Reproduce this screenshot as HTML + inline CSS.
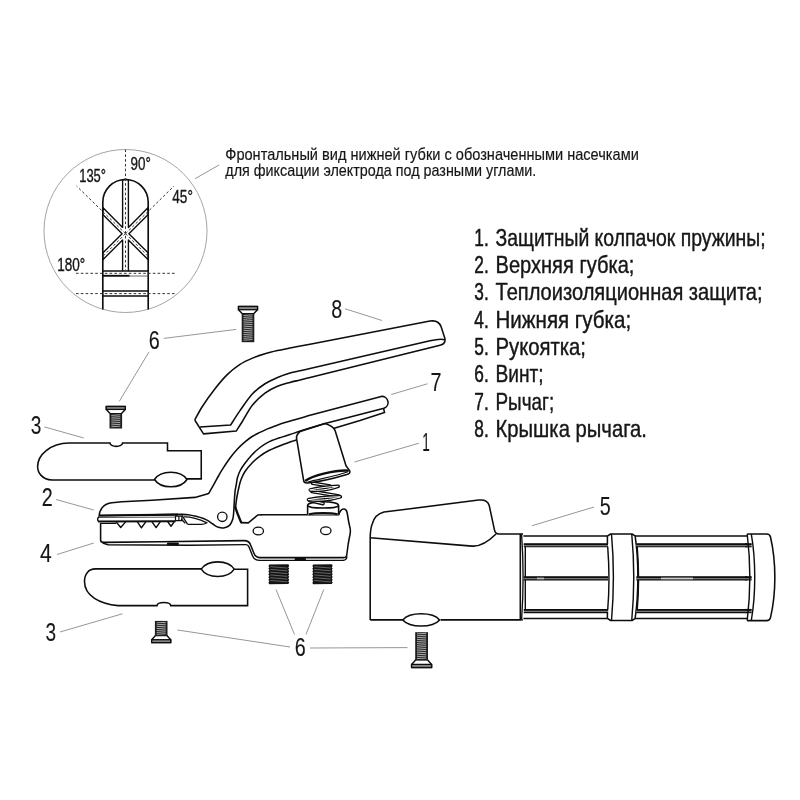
<!DOCTYPE html>
<html lang="ru"><head><meta charset="utf-8"><title>Электрододержатель — схема</title>
<style>html,body{margin:0;padding:0;background:#fff;}body{width:800px;height:800px;overflow:hidden;font-family:"Liberation Sans",sans-serif;}svg{display:block;filter:grayscale(1);}</style>
</head><body>
<svg width="800" height="800" viewBox="0 0 800 800" font-family="'Liberation Sans', sans-serif">
<circle cx="125.5" cy="231" r="81.5" fill="none" stroke="#9a9a9a" stroke-width="0.9"/>
<line x1="195" y1="178.75" x2="219" y2="165" stroke="#8a8a8a" stroke-width="0.9" />
<path d="M122.6,227.4 L102.8,207.6 L102.8,214.4 L122.1,233.7 L102.8,253 L102.8,259.8 L122.6,240 L122.6,271 L128.4,271 L128.4,240 L148.2,259.8 L148.2,253 L128.9,233.7 L148.2,214.4 L148.2,207.6 L128.4,227.4 L128.4,179.69 L128.28,179.67 L127.72,179.61 L127.17,179.56 L126.61,179.53 L126.06,179.51 L125.5,179.5 L124.94,179.51 L124.39,179.53 L123.83,179.56 L123.28,179.61 L122.72,179.67 L122.6,179.69 L122.6,227.4Z" fill="#fff" stroke="#0d0d0d" stroke-width="1.38" stroke-linejoin="round"/>
<path d="M102.8,309.5 V202.2 A22.7,22.7 0 0 1 148.2,202.2 V309.5" fill="none" stroke="#0d0d0d" stroke-width="1.65" />
<path d="M102.8,271 H122.6 M128.4,271 H148.2" fill="none" stroke="#0d0d0d" stroke-width="1.38" />
<path d="M129,276 H148.2" fill="none" stroke="#555" stroke-width="0.9" />
<path d="M102.8,275.8 H129.5" fill="none" stroke="#0d0d0d" stroke-width="1.9" />
<path d="M102.8,291 H148.2 M102.8,296 H148.2" fill="none" stroke="#0d0d0d" stroke-width="1.38" />
<line x1="125.5" y1="149.5" x2="125.5" y2="270" stroke="#333" stroke-width="1" stroke-dasharray="2.6 2.2"/>
<line x1="125.5" y1="233.7" x2="76.5" y2="186" stroke="#333" stroke-width="1" stroke-dasharray="2.6 2.2"/>
<line x1="125.5" y1="233.7" x2="174" y2="186" stroke="#333" stroke-width="1" stroke-dasharray="2.6 2.2"/>
<line x1="125.5" y1="233.7" x2="103.4" y2="255.8" stroke="#333" stroke-width="1" stroke-dasharray="2.6 2.2"/>
<line x1="125.5" y1="233.7" x2="147.6" y2="255.8" stroke="#333" stroke-width="1" stroke-dasharray="2.6 2.2"/>
<line x1="76" y1="273.3" x2="175.5" y2="273.3" stroke="#333" stroke-width="1" stroke-dasharray="2.6 2.2"/>
<line x1="76" y1="293.6" x2="175.5" y2="293.6" stroke="#333" stroke-width="1" stroke-dasharray="2.6 2.2"/>
<text x="130.6" y="170.2" font-size="17.6" text-anchor="start" font-weight="normal" fill="#161616" textLength="20.3" lengthAdjust="spacingAndGlyphs" stroke="#161616" stroke-width="0.35" stroke-linejoin="round">90°</text>
<text x="79.2" y="181.7" font-size="17.6" text-anchor="start" font-weight="normal" fill="#161616" textLength="26.8" lengthAdjust="spacingAndGlyphs" stroke="#161616" stroke-width="0.35" stroke-linejoin="round">135°</text>
<text x="172.3" y="203.3" font-size="17.6" text-anchor="start" font-weight="normal" fill="#161616" textLength="20.6" lengthAdjust="spacingAndGlyphs" stroke="#161616" stroke-width="0.35" stroke-linejoin="round">45°</text>
<text x="57.2" y="270.5" font-size="17.6" text-anchor="start" font-weight="normal" fill="#161616" textLength="28" lengthAdjust="spacingAndGlyphs" stroke="#161616" stroke-width="0.35" stroke-linejoin="round">180°</text>
<text x="225.3" y="159.5" font-size="16.2" text-anchor="start" font-weight="normal" fill="#161616" textLength="413.5" lengthAdjust="spacingAndGlyphs" stroke="#161616" stroke-width="0.18" stroke-linejoin="round">Фронтальный вид нижней губки с обозначенными насечками</text>
<text x="225.3" y="175.7" font-size="16.2" text-anchor="start" font-weight="normal" fill="#161616" textLength="311" lengthAdjust="spacingAndGlyphs" stroke="#161616" stroke-width="0.18" stroke-linejoin="round">для фиксации электрода под разными углами.</text>
<text x="474.3" y="245.6" font-size="24" text-anchor="start" font-weight="normal" fill="#161616" textLength="14.4" lengthAdjust="spacingAndGlyphs" stroke="#161616" stroke-width="0.55" stroke-linejoin="round">1.</text>
<text x="495.5" y="245.6" font-size="24" text-anchor="start" font-weight="normal" fill="#161616" textLength="270.1" lengthAdjust="spacingAndGlyphs" stroke="#161616" stroke-width="0.42" stroke-linejoin="round">Защитный колпачок пружины;</text>
<text x="474.3" y="272.96" font-size="24" text-anchor="start" font-weight="normal" fill="#161616" textLength="14.4" lengthAdjust="spacingAndGlyphs" stroke="#161616" stroke-width="0.55" stroke-linejoin="round">2.</text>
<text x="495.5" y="272.96" font-size="24" text-anchor="start" font-weight="normal" fill="#161616" textLength="138.9" lengthAdjust="spacingAndGlyphs" stroke="#161616" stroke-width="0.42" stroke-linejoin="round">Верхняя губка;</text>
<text x="474.3" y="300.32" font-size="24" text-anchor="start" font-weight="normal" fill="#161616" textLength="14.4" lengthAdjust="spacingAndGlyphs" stroke="#161616" stroke-width="0.55" stroke-linejoin="round">3.</text>
<text x="495.5" y="300.32" font-size="24" text-anchor="start" font-weight="normal" fill="#161616" textLength="267.1" lengthAdjust="spacingAndGlyphs" stroke="#161616" stroke-width="0.42" stroke-linejoin="round">Теплоизоляционная защита;</text>
<text x="474.3" y="327.68" font-size="24" text-anchor="start" font-weight="normal" fill="#161616" textLength="14.4" lengthAdjust="spacingAndGlyphs" stroke="#161616" stroke-width="0.55" stroke-linejoin="round">4.</text>
<text x="495.5" y="327.68" font-size="24" text-anchor="start" font-weight="normal" fill="#161616" textLength="135.7" lengthAdjust="spacingAndGlyphs" stroke="#161616" stroke-width="0.42" stroke-linejoin="round">Нижняя губка;</text>
<text x="474.3" y="355.04" font-size="24" text-anchor="start" font-weight="normal" fill="#161616" textLength="14.4" lengthAdjust="spacingAndGlyphs" stroke="#161616" stroke-width="0.55" stroke-linejoin="round">5.</text>
<text x="495.5" y="355.04" font-size="24" text-anchor="start" font-weight="normal" fill="#161616" textLength="90.5" lengthAdjust="spacingAndGlyphs" stroke="#161616" stroke-width="0.42" stroke-linejoin="round">Рукоятка;</text>
<text x="474.3" y="382.4" font-size="24" text-anchor="start" font-weight="normal" fill="#161616" textLength="14.4" lengthAdjust="spacingAndGlyphs" stroke="#161616" stroke-width="0.55" stroke-linejoin="round">6.</text>
<text x="495.5" y="382.4" font-size="24" text-anchor="start" font-weight="normal" fill="#161616" textLength="48.1" lengthAdjust="spacingAndGlyphs" stroke="#161616" stroke-width="0.42" stroke-linejoin="round">Винт;</text>
<text x="474.3" y="409.76" font-size="24" text-anchor="start" font-weight="normal" fill="#161616" textLength="14.4" lengthAdjust="spacingAndGlyphs" stroke="#161616" stroke-width="0.55" stroke-linejoin="round">7.</text>
<text x="495.5" y="409.76" font-size="24" text-anchor="start" font-weight="normal" fill="#161616" textLength="58.7" lengthAdjust="spacingAndGlyphs" stroke="#161616" stroke-width="0.42" stroke-linejoin="round">Рычаг;</text>
<text x="474.3" y="437.12" font-size="24" text-anchor="start" font-weight="normal" fill="#161616" textLength="14.4" lengthAdjust="spacingAndGlyphs" stroke="#161616" stroke-width="0.55" stroke-linejoin="round">8.</text>
<text x="495.5" y="437.12" font-size="24" text-anchor="start" font-weight="normal" fill="#161616" textLength="151.5" lengthAdjust="spacingAndGlyphs" stroke="#161616" stroke-width="0.42" stroke-linejoin="round">Крышка рычага.</text>
<text x="331.15" y="317.7" font-size="25.4" text-anchor="start" font-weight="normal" fill="#161616" textLength="10.98" lengthAdjust="spacingAndGlyphs" stroke="#161616" stroke-width="0.12" stroke-linejoin="round">8</text>
<text x="430.55" y="391.3" font-size="25.4" text-anchor="start" font-weight="normal" fill="#161616" textLength="10.98" lengthAdjust="spacingAndGlyphs" stroke="#161616" stroke-width="0.12" stroke-linejoin="round">7</text>
<text x="422.21" y="451.4" font-size="25.4" text-anchor="start" font-weight="normal" fill="#161616" textLength="7.56" lengthAdjust="spacingAndGlyphs" stroke="#161616" stroke-width="0.12" stroke-linejoin="round">1</text>
<text x="148.75" y="349.2" font-size="25.4" text-anchor="start" font-weight="normal" fill="#161616" textLength="10.98" lengthAdjust="spacingAndGlyphs" stroke="#161616" stroke-width="0.12" stroke-linejoin="round">6</text>
<text x="30.78" y="434" font-size="25.4" text-anchor="start" font-weight="normal" fill="#161616" textLength="10.61" lengthAdjust="spacingAndGlyphs" stroke="#161616" stroke-width="0.12" stroke-linejoin="round">3</text>
<text x="41.65" y="506.2" font-size="25.4" text-anchor="start" font-weight="normal" fill="#161616" textLength="10.98" lengthAdjust="spacingAndGlyphs" stroke="#161616" stroke-width="0.12" stroke-linejoin="round">2</text>
<text x="40.09" y="562.2" font-size="25.4" text-anchor="start" font-weight="normal" fill="#161616" textLength="11.71" lengthAdjust="spacingAndGlyphs" stroke="#161616" stroke-width="0.12" stroke-linejoin="round">4</text>
<text x="45.38" y="640.7" font-size="25.4" text-anchor="start" font-weight="normal" fill="#161616" textLength="10.61" lengthAdjust="spacingAndGlyphs" stroke="#161616" stroke-width="0.12" stroke-linejoin="round">3</text>
<text x="294.85" y="656.2" font-size="25.4" text-anchor="start" font-weight="normal" fill="#161616" textLength="10.98" lengthAdjust="spacingAndGlyphs" stroke="#161616" stroke-width="0.12" stroke-linejoin="round">6</text>
<text x="599.85" y="515.3" font-size="25.4" text-anchor="start" font-weight="normal" fill="#161616" textLength="10.98" lengthAdjust="spacingAndGlyphs" stroke="#161616" stroke-width="0.12" stroke-linejoin="round">5</text>
<line x1="345" y1="308.75" x2="382" y2="320.5" stroke="#8a8a8a" stroke-width="0.9" />
<line x1="391.25" y1="394.5" x2="427.5" y2="383.75" stroke="#8a8a8a" stroke-width="0.9" />
<line x1="354.5" y1="462" x2="418.75" y2="443.25" stroke="#8a8a8a" stroke-width="0.9" />
<line x1="163.8" y1="338.4" x2="236.25" y2="329.4" stroke="#8a8a8a" stroke-width="0.9" />
<line x1="149" y1="351.9" x2="119.25" y2="401.4" stroke="#8a8a8a" stroke-width="0.9" />
<line x1="44.4" y1="426.9" x2="83.75" y2="438" stroke="#8a8a8a" stroke-width="0.9" />
<line x1="56" y1="499.5" x2="93.75" y2="510" stroke="#8a8a8a" stroke-width="0.9" />
<line x1="57" y1="554.5" x2="93.75" y2="543" stroke="#8a8a8a" stroke-width="0.9" />
<line x1="60" y1="632" x2="122.5" y2="613.75" stroke="#8a8a8a" stroke-width="0.9" />
<line x1="177.5" y1="630" x2="290" y2="647" stroke="#8a8a8a" stroke-width="0.9" />
<line x1="276" y1="589.5" x2="294.5" y2="634.5" stroke="#8a8a8a" stroke-width="0.9" />
<line x1="323.75" y1="589.5" x2="306" y2="634.5" stroke="#8a8a8a" stroke-width="0.9" />
<line x1="310" y1="648" x2="407.5" y2="647.6" stroke="#8a8a8a" stroke-width="0.9" />
<line x1="531.9" y1="525.75" x2="594" y2="507" stroke="#8a8a8a" stroke-width="0.9" />
<path d="M238.5,306.5 H257.5 V309.7 L253.7,313.7 H242.3 L238.5,309.7 Z" fill="#fff" stroke="#0d0d0d" stroke-width="1.43" stroke-linejoin="round"/>
<rect x="238.5" y="306.5" width="19" height="3.2" fill="#8c8c8c" stroke="#0d0d0d" stroke-width="1.3"/>
<rect x="241.7" y="313.7" width="12.6" height="28.5" fill="#1e1e1e"/>
<path d="M243.5,315.5 L252.5,314.9 M243.5,317.4 L252.5,316.8 M243.5,319.3 L252.5,318.7 M243.5,321.2 L252.5,320.6 M243.5,323.1 L252.5,322.5 M243.5,325 L252.5,324.4 M243.5,326.9 L252.5,326.3 M243.5,328.8 L252.5,328.2 M243.5,330.7 L252.5,330.1 M243.5,332.6 L252.5,332 M243.5,334.5 L252.5,333.9 M243.5,336.4 L252.5,335.8 M243.5,338.3 L252.5,337.7 M243.5,340.2 L252.5,339.6 " fill="none" stroke="#d8d8d8" stroke-width="0.75" />
<path d="M106.3,406.5 H125.3 V409.4 L121.5,413.6 H110.1 L106.3,409.4 Z" fill="#fff" stroke="#0d0d0d" stroke-width="1.43" stroke-linejoin="round"/>
<rect x="106.3" y="406.5" width="19" height="2.9" fill="#8c8c8c" stroke="#0d0d0d" stroke-width="1.3"/>
<rect x="109.5" y="413.6" width="12.6" height="14.9" fill="#1e1e1e"/>
<path d="M111.3,415.4 L120.3,414.8 M111.3,417.3 L120.3,416.7 M111.3,419.2 L120.3,418.6 M111.3,421.1 L120.3,420.5 M111.3,423 L120.3,422.4 M111.3,424.9 L120.3,424.3 M111.3,426.8 L120.3,426.2 " fill="none" stroke="#d8d8d8" stroke-width="0.75" />
<path d="M151.7,642.6 H170.7 V639.7 L166.9,635.5 H155.5 L151.7,639.7 Z" fill="#fff" stroke="#0d0d0d" stroke-width="1.43" stroke-linejoin="round"/>
<rect x="151.7" y="639.7" width="19" height="2.9" fill="#8c8c8c" stroke="#0d0d0d" stroke-width="1.3"/>
<rect x="154.9" y="620.9" width="12.6" height="15.1" fill="#1e1e1e"/>
<path d="M156.7,634.3 L165.7,633.7 M156.7,632.4 L165.7,631.8 M156.7,630.5 L165.7,629.9 M156.7,628.6 L165.7,628 M156.7,626.7 L165.7,626.1 M156.7,624.8 L165.7,624.2 M156.7,622.9 L165.7,622.3 " fill="none" stroke="#d8d8d8" stroke-width="0.75" />
<path d="M411.6,667.5 H431.6 V664.4 L427.4,659.8 H415.8 L411.6,664.4 Z" fill="#fff" stroke="#0d0d0d" stroke-width="1.43" stroke-linejoin="round"/>
<rect x="411.6" y="664.4" width="20" height="3.1" fill="#8c8c8c" stroke="#0d0d0d" stroke-width="1.3"/>
<rect x="415.2" y="632.2" width="12.8" height="28.1" fill="#1e1e1e"/>
<path d="M417,658.6 L426.2,658 M417,656.7 L426.2,656.1 M417,654.8 L426.2,654.2 M417,652.9 L426.2,652.3 M417,651 L426.2,650.4 M417,649.1 L426.2,648.5 M417,647.2 L426.2,646.6 M417,645.3 L426.2,644.7 M417,643.4 L426.2,642.8 M417,641.5 L426.2,640.9 M417,639.6 L426.2,639 M417,637.7 L426.2,637.1 M417,635.8 L426.2,635.2 M417,633.9 L426.2,633.3 " fill="none" stroke="#d8d8d8" stroke-width="0.75" />
<path d="M269.2,564.6 L288.4,564.3 L289.2,565.84 L288.3,567.36 L289.2,568.6 L288.3,570.11 L289.2,571.36 L288.3,572.87 L289.2,574.11 L288.3,575.63 L289.2,576.87 L288.3,578.39 L289.2,579.63 L288.3,581.14 L289.2,582.38 L288.3,583.9 L269.2,584.2 L268.4,582.66 L269.3,581.14 L268.4,579.9 L269.3,578.39 L268.4,577.14 L269.3,575.63 L268.4,574.39 L269.3,572.87 L268.4,571.63 L269.3,570.11 L268.4,568.87 L269.3,567.36 L268.4,566.12 L269.3,564.6Z" fill="#141414"/>
<path d="M270.3,566.66 L287.3,568.06 M270.3,569.41 L287.3,570.81 M270.3,572.17 L287.3,573.57 M270.3,574.93 L287.3,576.33 M270.3,577.69 L287.3,579.09 M270.3,580.44 L287.3,581.84 " fill="none" stroke="#a8a8a8" stroke-width="0.55" />
<path d="M313.1,564.6 L331.9,564.3 L332.7,565.84 L331.8,567.36 L332.7,568.6 L331.8,570.11 L332.7,571.36 L331.8,572.87 L332.7,574.11 L331.8,575.63 L332.7,576.87 L331.8,578.39 L332.7,579.63 L331.8,581.14 L332.7,582.38 L331.8,583.9 L313.1,584.2 L312.3,582.66 L313.2,581.14 L312.3,579.9 L313.2,578.39 L312.3,577.14 L313.2,575.63 L312.3,574.39 L313.2,572.87 L312.3,571.63 L313.2,570.11 L312.3,568.87 L313.2,567.36 L312.3,566.12 L313.2,564.6Z" fill="#141414"/>
<path d="M314.2,566.66 L330.8,568.06 M314.2,569.41 L330.8,570.81 M314.2,572.17 L330.8,573.57 M314.2,574.93 L330.8,576.33 M314.2,577.69 L330.8,579.09 M314.2,580.44 L330.8,581.84 " fill="none" stroke="#a8a8a8" stroke-width="0.55" />
<path d="M69,443 H110 A6.25,3.4 0 0 0 122.5,443 H167.5 V450.75 H201.25 V478.9 H187 M154.5,480 H52 C42,479.6 37.6,472.5 37.6,466.5 C37.6,455 50,443.3 69,443" fill="none" stroke="#0d0d0d" stroke-width="1.56" />
<path d="M154.5,479.5 C160.68,469.83 180.82,469.83 187,479.5 C180.82,489.17 160.68,489.17 154.5,479.5 Z" fill="#fff" stroke="#0d0d0d" stroke-width="1.56" />
<path d="M95.5,568.9 H201.3 M234.3,569.3 H247.6 V605.6 H170.75 A6.9,3.3 0 0 0 157,605.6 H118 C100,604 84.5,596 84.5,581.5 C84.5,574 88.5,568.9 95.5,568.9" fill="none" stroke="#0d0d0d" stroke-width="1.56" />
<path d="M201.25,569.2 C207.52,559.47 227.98,559.47 234.25,569.2 C227.98,578.93 207.52,578.93 201.25,569.2 Z" fill="#fff" stroke="#0d0d0d" stroke-width="1.56" />
<path d="M194.75,420 C196.04,417.71 199.12,411.46 202.5,406.25 C205.88,401.04 210.83,394.06 215,388.75 C219.17,383.44 223.33,378.46 227.5,374.4 C231.67,370.34 235.83,367.12 240,364.4 C244.17,361.68 248.33,359.88 252.5,358.1 C256.67,356.33 260.83,355 265,353.75 C269.17,352.5 273.33,351.54 277.5,350.6 C281.67,349.66 284.58,349.17 290,348.1 C295.42,347.03 306.67,344.85 310,344.2 L430,321.1 C435.5,320.2 439.5,322 441.2,327 L444.6,337.5 C445.8,341.6 444.5,344.2 440,345.2 L310,377.4  C308.33,377.83 303.33,379.17 300,380 C296.67,380.83 293.75,381.36 290,382.4 C286.25,383.44 281.67,384.47 277.5,386.25 C273.33,388.03 269.17,389.98 265,393.1 C260.83,396.23 256.25,400.31 252.5,405 C248.75,409.69 245.21,416.92 242.5,421.25 C239.79,425.58 237.29,429.38 236.25,431 L203.5,433.9 L194.75,420" fill="#fff" stroke="#0d0d0d" stroke-width="1.56" stroke-linejoin="round"/>
<path d="M444.8,339.8 C441,338.6 436,339.4 430,340.8 L310,368.6  C308.33,368.97 303.33,370.07 300,370.8 C296.67,371.53 293.75,371.88 290,373 C286.25,374.12 281.67,375.71 277.5,377.5 C273.33,379.29 269.17,381.04 265,383.75 C260.83,386.46 256.67,389.27 252.5,393.75 C248.33,398.23 243.65,405.39 240,410.6 C236.35,415.81 232.17,422.6 230.6,425 L200,427" fill="none" stroke="#0d0d0d" stroke-width="1.56" stroke-linejoin="round"/>
<path d="M99,516.8 C99.2,509.6 103.4,503.6 112,502.7 L122,501.8 L152,500.2 L195,497.4 L208.75,493.4  C209.25,492.52 210.71,489.95 211.75,488.1 C212.79,486.25 213.88,484.32 215,482.3 C216.12,480.28 217.25,478.18 218.5,476 C219.75,473.82 220.58,472.2 222.5,469.2 C224.42,466.2 227.5,461.37 230,458 C232.5,454.63 235,451.68 237.5,449 C240,446.32 242.5,444.02 245,441.9 C247.5,439.77 250,437.83 252.5,436.25 C255,434.67 257.5,433.62 260,432.4 C262.5,431.17 265,429.95 267.5,428.9 C270,427.85 272.08,427.15 275,426.1 C277.92,425.05 279.17,424.4 285,422.6 C290.83,420.8 305.83,416.52 310,415.3 L381.3,396.4 A6.1,6.1 0 0 1 384,408.2" fill="none" stroke="#0d0d0d" stroke-width="1.56" stroke-linejoin="round"/>
<path d="M383.6,408.3 L384.5,412.6 L360,420.6 L335,428.1  C328.54,430.07 303.75,437.58 296.25,439.9 C288.75,442.22 292.92,440.94 290,442 C287.08,443.06 282.5,444.71 278.75,446.25 C275,447.79 270.62,449.61 267.5,451.25 C264.38,452.89 262.5,454.23 260,456.1 C257.5,457.98 255,459.93 252.5,462.5 C250,465.07 246.88,468.75 245,471.5 C243.12,474.25 242.22,476.58 241.25,479 C240.28,481.42 239.95,482.83 239.2,486 C238.45,489.17 237.38,494.25 236.75,498 C236.12,501.75 235.62,506.75 235.4,508.5" fill="none" stroke="#0d0d0d" stroke-width="1.56" />
<path d="M235.2,507 L237.6,513.75 L241.1,522.4" fill="none" stroke="#0d0d0d" stroke-width="2.3" stroke-linejoin="round" stroke-linecap="round"/>
<path d="M241.1,522.6 L248.3,522.9 L257.75,515 L262,514.7" fill="none" stroke="#0d0d0d" stroke-width="1.56" stroke-linejoin="round"/>
<path d="M99.6,515.5 L178,514.6" fill="none" stroke="#0d0d0d" stroke-width="2.1" />
<path d="M98.6,517.5 L175.5,517.1" fill="none" stroke="#444" stroke-width="0.9" />
<path d="M98.2,521.5 L175.6,521.2" fill="none" stroke="#0d0d0d" stroke-width="1.9" />
<path d="M100.6,523.5 L116.4,523.3" fill="none" stroke="#0d0d0d" stroke-width="1.21" />
<path d="M116.2,521.9 L120.7,527.5 L125.6,521.9 M137.4,521.9 L141.4,527.8 L145.8,521.9 M152,521.9 L156.1,527.6 L160.2,521.9 M167.8,521.9 L171,526.2 L174.2,521.9 " fill="none" stroke="#0d0d0d" stroke-width="1.43" stroke-linejoin="round"/>
<path d="M98.8,516.8 C97.3,518.4 97.3,520.4 98.6,521.6" fill="none" stroke="#0d0d0d" stroke-width="1.43" />
<path d="M100.6,523 V540 C100.6,542 101.6,542.4 104,542.4 L160,541.8 L244,540.6 C248,540.6 249.6,541.6 250.6,545 L253.8,553 C255,556.2 256.6,557.5 260,557.6 L343.5,557.6 C345.8,557.6 346.8,556.6 346.9,554 L348.2,544 L349.5,537 C350.6,533 350.6,529 349.6,526 L348.6,521.25 L347.2,513 C346.6,509.6 345,508.6 343.2,509 C341,509.6 339.6,511.6 338.8,514.8 L261,514.8" fill="none" stroke="#0d0d0d" stroke-width="1.56" stroke-linejoin="round"/>
<path d="M102.6,543 L108,544.7 L190,545.2 L246,544.6 C247.6,544.6 248.4,545.4 249,547 L252.6,556 C253.8,559 255.6,560.3 259,560.4 L343.5,560.3 C345.6,560.2 346.6,559 346.9,556.5" fill="none" stroke="#0d0d0d" stroke-width="1.43" />
<rect x="166.9" y="542.5" width="12" height="2.7" rx="1.2" fill="#0d0d0d"/>
<rect x="294.6" y="557.9" width="11.4" height="2.4" rx="1.1" fill="#0d0d0d"/>
<path d="M175.5,516.1 H181.9 V520.7 H175.5 Z M178.9,516.1 V520.7" fill="none" stroke="#0d0d0d" stroke-width="1.21" />
<path d="M181.9,515.4 L187.5,524.2 M181.1,518.75 L185.25,523.4" fill="none" stroke="#0d0d0d" stroke-width="1.32" />
<path d="M183.75,516.9 C190,516.6 200,519.6 207,522.8 C205,524 203,524.4 201,524.4 L187.5,524.4" fill="none" stroke="#0d0d0d" stroke-width="1.32" stroke-linejoin="round"/>
<circle cx="222.3" cy="516.8" r="4.7" fill="#fff" stroke="#0d0d0d" stroke-width="1.3"/>
<ellipse cx="258.3" cy="531" rx="5.2" ry="3.9" fill="#fff" stroke="#0d0d0d" stroke-width="1.3"/>
<ellipse cx="325.8" cy="530.8" rx="5.2" ry="3.9" fill="#fff" stroke="#0d0d0d" stroke-width="1.3"/>
<path d="M307.6,514.4 V505.6 C307.6,500.6 338.6,500.6 338.6,505.6 V514.4" fill="#fff" stroke="#0d0d0d" stroke-width="1.54" />
<path d="M307.6,505.6 C309,508.8 337.2,508.8 338.6,505.6" fill="none" stroke="#0d0d0d" stroke-width="1.54" />
<path d="M309,514.3 C316,512.4 331,512.4 337.6,514.3" fill="none" stroke="#0d0d0d" stroke-width="2" />
<path d="M309.6,500.4 L323,503.6" fill="none" stroke="#0d0d0d" stroke-width="3.7" stroke-linecap="round" stroke-linejoin="round"/>
<path d="M309.6,500.4 L323,503.6" fill="none" stroke="#fff" stroke-width="1.05" stroke-linecap="round" stroke-linejoin="round"/>
<path d="M311.8,491.4 L339,496" fill="none" stroke="#0d0d0d" stroke-width="3.7" stroke-linecap="round" stroke-linejoin="round"/>
<path d="M311.8,491.4 L339,496" fill="none" stroke="#fff" stroke-width="1.05" stroke-linecap="round" stroke-linejoin="round"/>
<path d="M312.6,483.2 L330,486" fill="none" stroke="#0d0d0d" stroke-width="3.7" stroke-linecap="round" stroke-linejoin="round"/>
<path d="M312.6,483.2 L330,486" fill="none" stroke="#fff" stroke-width="1.05" stroke-linecap="round" stroke-linejoin="round"/>
<path d="M310.2,489.9 C318,491.2 330,489.4 338.2,486.3 C330,486.6 318,488 310.2,489.9 Z" fill="none" stroke="#0d0d0d" stroke-width="3.5" stroke-linecap="round" stroke-linejoin="round"/>
<path d="M310.2,489.9 C318,491.2 330,489.4 338.2,486.3 C330,486.6 318,488 310.2,489.9 Z" fill="none" stroke="#fff" stroke-width="1" stroke-linecap="round" stroke-linejoin="round"/>
<path d="M308.4,499.6 C318,501 331,499.8 340.4,496.8 C331,496.8 318,497.8 308.4,499.6 Z" fill="none" stroke="#0d0d0d" stroke-width="3.5" stroke-linecap="round" stroke-linejoin="round"/>
<path d="M308.4,499.6 C318,501 331,499.8 340.4,496.8 C331,496.8 318,497.8 308.4,499.6 Z" fill="none" stroke="#fff" stroke-width="1" stroke-linecap="round" stroke-linejoin="round"/>
<path d="M300,431.6 C297.6,433.4 296.3,436 296.6,438.6 L303.6,480.4 C303.8,482.4 305,483.2 307.5,483 C318,482 334,478.4 346,474.8 C349.4,474 350.6,472.6 349.6,470.6 L346,465.75 L335,430.3 C333.6,427.4 331,425.4 325,423.5 Z" fill="#fff" stroke="#0d0d0d" stroke-width="1.56" stroke-linejoin="round"/>
<path d="M305.2,481 C312,475.4 336,469.6 348.8,470.6" fill="none" stroke="#0d0d0d" stroke-width="2.4" />
<path d="M307.4,482.2 C318,479.2 338,475.8 348,471.8" fill="none" stroke="#0d0d0d" stroke-width="1.1" />
<path d="M384,408.2 L325,423.5 L310,428.1  C308.12,428.68 302.08,430.53 298.75,431.6 C295.42,432.67 293.33,433.42 290,434.5 C286.67,435.58 282.5,436.75 278.75,438.1 C275,439.45 270.62,441.03 267.5,442.6 C264.38,444.17 262.5,445.56 260,447.5 C257.5,449.44 255,451.62 252.5,454.25 C250,456.88 247,460.62 245,463.25 C243,465.88 241.75,467.62 240.5,470 C239.25,472.38 238.22,475 237.5,477.5 C236.78,480 236.62,482.6 236.2,485 C235.78,487.4 235.35,488.57 235,491.9 C234.65,495.23 234.32,501.65 234.1,505 C233.88,508.35 233.92,509.67 233.7,512 C233.48,514.33 233.46,516.82 232.8,519 C232.14,521.18 231.13,523.64 229.75,525.1 C228.37,526.56 226.39,527.38 224.5,527.75 C222.61,528.12 220.3,527.88 218.4,527.3 C216.5,526.72 214.71,525.27 213.1,524.25 C211.49,523.23 210.35,522.14 208.75,521.2 C207.15,520.26 205.62,519.42 203.5,518.6 C201.38,517.78 198.58,516.95 196,516.3 C193.42,515.65 190.5,515.03 188,514.7 C185.5,514.37 182.17,514.37 181,514.3 L100,515.7" fill="none" stroke="#0d0d0d" stroke-width="1.56" />
<path d="M370.2,619.9 V537 C370.4,531 371,527 372.2,524 C374,517.6 378,513.6 384,512.1 L478.6,500.1 C484.5,499.4 487.8,501 489.2,505.4 L494.4,529.6 C494.9,532.6 496,534 499,534 H520.3 V619.9 H440.6 M403.2,619.9 H370.2" fill="none" stroke="#0d0d0d" stroke-width="1.56" stroke-linejoin="round"/>
<path d="M370.2,537.7 L472,546.1 C479.5,546.7 488.5,541.4 496,534" fill="none" stroke="#0d0d0d" stroke-width="1.56" />
<path d="M402.8,619.9 C409.79,611.77 432.61,611.77 439.6,619.9 C432.61,628.03 409.79,628.03 402.8,619.9 Z" fill="#fff" stroke="#0d0d0d" stroke-width="1.56" />
<path d="M520.3,534 H523 M520.3,619.9 H523" fill="none" stroke="#0d0d0d" stroke-width="1.32" />
<path d="M521.6,534.4 C523.4,560 523.4,594 521.6,619.6" fill="none" stroke="#0d0d0d" stroke-width="1.32" />
<path d="M523.4,535.9 H607.4 M523.4,618.6 H607.4" fill="none" stroke="#0d0d0d" stroke-width="1.54" />
<path d="M525.3,546 V612.6" fill="none" stroke="#0d0d0d" stroke-width="1.43" />
<path d="M607.7,546.6 C609.2,566 609.2,592 607.7,610" fill="none" stroke="#0d0d0d" stroke-width="1.43" />
<path d="M607.4,544 V536.2 L610.6,534 H632 L635.1,535.9 C638.8,560 638.8,594 635.1,618.6 L632,620.5 H610.6 L607.4,618.4 V610.4" fill="none" stroke="#0d0d0d" stroke-width="1.54" stroke-linejoin="round"/>
<path d="M611.5,534 C613.8,560 613.8,594 611.5,620.5 M631.75,534 C634.2,560 634.2,594 631.75,620.5" fill="none" stroke="#0d0d0d" stroke-width="1.43" />
<path d="M635.3,535.9 H747 M635.3,618.6 H747" fill="none" stroke="#0d0d0d" stroke-width="1.54" />
<path d="M637.2,546.6 C638.8,566 638.8,592 637.2,610" fill="none" stroke="#0d0d0d" stroke-width="1.43" />
<rect x="523.8" y="543.7" width="84.2" height="3.1" fill="#777"/>
<path d="M523.8,544.15 H608" fill="none" stroke="#0d0d0d" stroke-width="1.9" />
<path d="M523.8,546.8 H608" fill="none" stroke="#0d0d0d" stroke-width="1.1" />
<rect x="523.8" y="576.7" width="84.2" height="3.2" fill="#777"/>
<path d="M523.8,577.15 H608" fill="none" stroke="#0d0d0d" stroke-width="1.9" />
<path d="M523.8,579.9 H608" fill="none" stroke="#0d0d0d" stroke-width="1.1" />
<rect x="523.8" y="609.4" width="84.2" height="3.2" fill="#777"/>
<path d="M523.8,609.85 H608" fill="none" stroke="#0d0d0d" stroke-width="1.9" />
<path d="M523.8,612.6 H608" fill="none" stroke="#0d0d0d" stroke-width="1.1" />
<rect x="636.4" y="543.7" width="112.4" height="3.1" fill="#777"/>
<path d="M636.4,544.15 H748.8" fill="none" stroke="#0d0d0d" stroke-width="1.9" />
<path d="M636.4,546.8 H748.8" fill="none" stroke="#0d0d0d" stroke-width="1.1" />
<rect x="636.4" y="576.7" width="112.4" height="3.2" fill="#777"/>
<path d="M636.4,577.15 H748.8" fill="none" stroke="#0d0d0d" stroke-width="1.9" />
<path d="M636.4,579.9 H748.8" fill="none" stroke="#0d0d0d" stroke-width="1.1" />
<rect x="636.4" y="609.4" width="112.4" height="3.2" fill="#777"/>
<path d="M636.4,609.85 H748.8" fill="none" stroke="#0d0d0d" stroke-width="1.9" />
<path d="M636.4,612.6 H748.8" fill="none" stroke="#0d0d0d" stroke-width="1.1" />
<rect x="661" y="577.6" width="32" height="1.7" fill="#cfcfcf"/>
<rect x="537" y="577.6" width="7" height="1.7" fill="#bbb"/>
<path d="M747.2,534 H766.6 Q769.8,534 770.5,537 C776.3,562 776.3,593 770.5,617.6 Q769.8,620.6 766.6,620.6 H747.2" fill="#fff" stroke="#0d0d0d" stroke-width="1.56" stroke-linejoin="round"/>
<rect x="745" y="543.7" width="6.6" height="3.1" fill="#777"/>
<path d="M745,544.15 H751.6" fill="none" stroke="#0d0d0d" stroke-width="1.9" />
<path d="M745,546.8 H751.6" fill="none" stroke="#0d0d0d" stroke-width="1.1" />
<rect x="745" y="576.7" width="6.6" height="3.2" fill="#777"/>
<path d="M745,577.15 H751.6" fill="none" stroke="#0d0d0d" stroke-width="1.9" />
<path d="M745,579.9 H751.6" fill="none" stroke="#0d0d0d" stroke-width="1.1" />
<rect x="745" y="609.4" width="6.6" height="3.2" fill="#777"/>
<path d="M745,609.85 H751.6" fill="none" stroke="#0d0d0d" stroke-width="1.9" />
<path d="M745,612.6 H751.6" fill="none" stroke="#0d0d0d" stroke-width="1.1" />
<path d="M751.3,534.2 C755.9,560 755.9,594 751.3,620.5" fill="none" stroke="#0d0d0d" stroke-width="1.43" />
<path d="M747.2,534 C750.4,560 750.4,594 747.2,620.6" fill="none" stroke="#0d0d0d" stroke-width="1.43" />
</svg>
</body></html>
